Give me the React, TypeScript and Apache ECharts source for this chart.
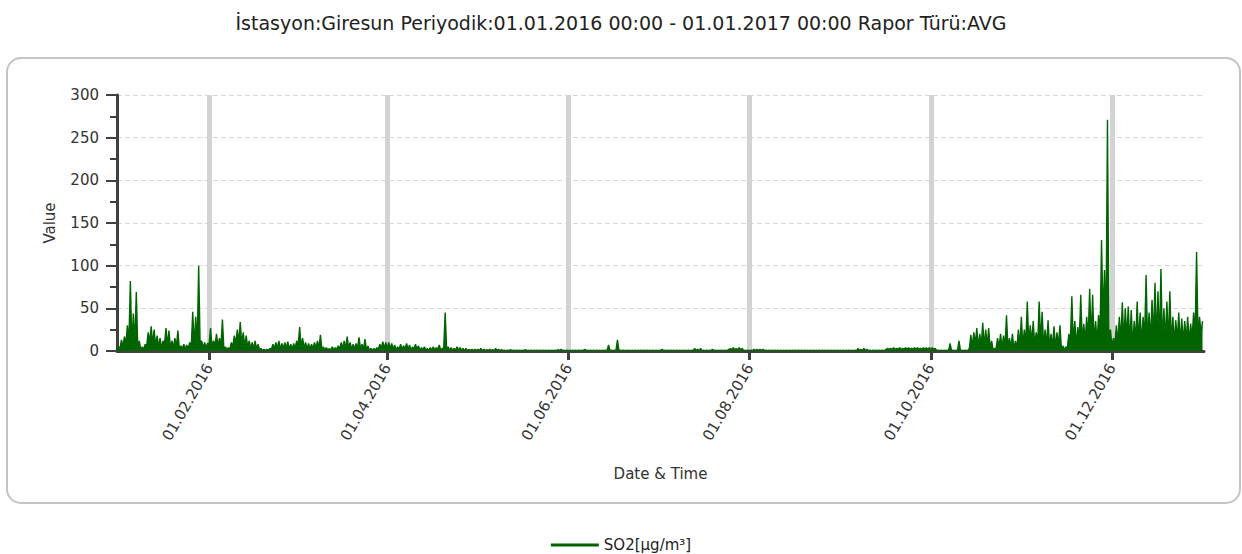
import React, { useEffect, useRef } from "react";
import * as echarts from "echarts";

const titleText = "İstasyon:Giresun Periyodik:01.01.2016 00:00 - 01.01.2017 00:00 Rapor Türü:AVG";
const seriesName = "SO2[µg/m³]";

// x axis: day of year (0 = 01.01.2016)
const tickDays = [31, 91, 152, 213, 274, 335];
const tickLabels = ["01.02.2016", "01.04.2016", "01.06.2016", "01.08.2016", "01.10.2016", "01.12.2016"];
const yTicks = [0, 50, 100, 150, 200, 250, 300];

// daily peak and low values, per month
const janMax = [5, 13, 17, 30, 82, 44, 69, 12, 5, 8, 22, 29, 25, 18, 15, 12, 27, 24, 12, 15, 24, 6, 8, 7, 10, 46, 40, 100, 12, 10, 9];
const janMin = [1, 3, 5, 8, 10, 6, 9, 3, 1, 2, 6, 10, 8, 6, 5, 3, 8, 6, 3, 4, 5, 2, 3, 2, 3, 5, 6, 8, 5, 4, 4];
const febMax = [27, 12, 20, 15, 37, 5, 4, 10, 18, 25, 34, 22, 18, 12, 10, 12, 8, 3, 2, 2, 3, 8, 10, 12, 9, 10, 11, 8, 9];
const febMin = [8, 4, 6, 5, 6, 1, 1, 2, 5, 8, 10, 7, 5, 4, 3, 3, 2, 1, 0.5, 0.5, 1, 2, 3, 3, 2, 3, 3, 2, 2];
const marMax = [12, 28, 15, 10, 9, 8, 10, 12, 19, 5, 4, 3, 5, 4, 6, 10, 12, 17, 10, 8, 9, 16, 8, 14, 6, 3, 3, 4, 8, 11, 10];
const marMin = [3, 6, 4, 3, 2, 2, 3, 3, 3, 1, 1, 1, 1, 1, 2, 2, 3, 3, 3, 2, 2, 3, 2, 2, 1, 1, 1, 1, 2, 3, 3];
const aprMax = [10, 9, 7, 5, 8, 6, 9, 7, 5, 8, 6, 4, 5, 3, 4, 5, 4, 7, 3, 45, 5, 4, 3, 5, 4, 3, 3, 2, 2, 2];
const aprMin = [3, 3, 2, 1, 2, 2, 3, 2, 1, 2, 2, 1, 1, 1, 1, 1, 1, 2, 1, 3, 1, 1, 1, 1, 1, 1, 0.5, 0.5, 0.5, 0.5];
const mayMax = [2, 3, 2, 1.5, 2, 1.5, 3, 2, 1.5, 1, 1, 1.5, 1, 1, 1, 1, 1.5, 1, 1, 1, 1, 1, 1, 1, 1, 1, 1, 1.5, 2, 1, 1];
const mayMin = [0.5, 0.5, 0.5, 0.5, 0.5, 0.5, 0.5, 0.5, 0.5, 0.5, 0.5, 0.5, 0.5, 0.5, 0.5, 0.5, 0.5, 0.5, 0.5, 0.5, 0.5, 0.5, 0.5, 0.5, 0.5, 0.5, 0.5, 0.5, 0.5, 0.5, 0.5];
const junMax = [1, 1, 1, 1, 1, 2, 1, 1, 1, 1, 1, 1, 1, 7, 1, 1, 13, 1, 1, 1, 1, 1, 1, 1, 1, 1, 1, 1, 1, 1];
const junMin = [0.5, 0.5, 0.5, 0.5, 0.5, 0.5, 0.5, 0.5, 0.5, 0.5, 0.5, 0.5, 0.5, 0.5, 0.5, 0.5, 0.5, 0.5, 0.5, 0.5, 0.5, 0.5, 0.5, 0.5, 0.5, 0.5, 0.5, 0.5, 0.5, 0.5];
const julMax = [1, 2, 1, 1, 1, 1, 1, 1, 1, 1, 1, 1, 3, 2, 3, 1, 1, 1, 2, 1, 1, 1, 1, 1, 3, 4, 3, 4, 3, 1, 1];
const julMin = [0.5, 0.5, 0.5, 0.5, 0.5, 0.5, 0.5, 0.5, 0.5, 0.5, 0.5, 0.5, 0.5, 0.5, 0.5, 0.5, 0.5, 0.5, 0.5, 0.5, 0.5, 0.5, 0.5, 0.5, 1.5, 1.5, 1.5, 1.5, 1.5, 0.5, 0.5];
const augMax = [1, 2, 2, 2, 2, 1, 1, 1, 1, 1, 1, 1, 1, 1, 1, 1, 1, 1, 1, 1, 1, 1, 1, 1, 1, 1, 1, 1, 1, 1, 1];
const augMin = [0.5, 0.5, 0.5, 0.5, 0.5, 0.5, 0.5, 0.5, 0.5, 0.5, 0.5, 0.5, 0.5, 0.5, 0.5, 0.5, 0.5, 0.5, 0.5, 0.5, 0.5, 0.5, 0.5, 0.5, 0.5, 0.5, 0.5, 0.5, 0.5, 0.5, 0.5];
const sepMax = [1, 1, 1, 1, 1, 3, 2, 3, 2, 1, 1, 1, 1, 1, 1, 3, 3, 4, 3, 4, 3, 4, 4, 3, 4, 4, 3, 4, 4, 4];
const sepMin = [0.5, 0.5, 0.5, 0.5, 0.5, 0.5, 0.5, 0.5, 0.5, 0.5, 0.5, 0.5, 0.5, 0.5, 0.5, 2, 2, 2, 2, 2, 2, 2, 2, 2, 2, 2, 2, 2, 2, 2];
const octMax = [4, 3, 1, 1, 1, 1, 9, 1, 1, 12, 1, 1, 1, 19, 22, 27, 20, 33, 25, 27, 12, 3, 15, 20, 18, 42, 15, 20, 12, 25, 40];
const octMin = [2, 2, 0.5, 0.5, 0.5, 0.5, 0.5, 0.5, 0.5, 0.5, 0.5, 0.5, 0.5, 3, 5, 8, 4, 6, 5, 6, 3, 1, 3, 4, 3, 5, 3, 4, 2, 3, 5];
const novMax = [25, 58, 30, 35, 22, 58, 46, 25, 36, 20, 29, 22, 30, 6, 5, 20, 64, 35, 28, 66, 32, 40, 73, 66, 35, 42, 130, 95, 271, 25];
const novMin = [5, 10, 8, 10, 6, 8, 10, 5, 6, 4, 5, 3, 6, 2, 1, 4, 10, 8, 6, 12, 10, 12, 15, 12, 8, 10, 20, 40, 30, 5];
const decMax = [15, 30, 40, 57, 50, 52, 48, 35, 58, 45, 40, 89, 45, 60, 80, 70, 96, 50, 58, 70, 40, 36, 45, 38, 35, 40, 32, 45, 116, 40, 35];
const decMin = [5, 8, 10, 12, 10, 15, 8, 6, 12, 10, 8, 15, 10, 12, 15, 12, 10, 8, 12, 10, 8, 10, 12, 8, 10, 12, 10, 15, 20, 15, 20];

const dailyMax = [janMax, febMax, marMax, aprMax, mayMax, junMax, julMax, augMax, sepMax, octMax, novMax, decMax].flat();
const dailyMin = [janMin, febMin, marMin, aprMin, mayMin, junMin, julMin, augMin, sepMin, octMin, novMin, decMin].flat();

function buildData() {
  const out: [number, number][] = [];
  for (let d = 0; d < dailyMax.length; d++) {
    out.push([d, dailyMin[d]]);
    out.push([d + 0.5, dailyMax[d]]);
  }
  return out;
}

const FONT = "DejaVu Sans";

export default function App() {
  const ref = useRef<HTMLDivElement>(null);
  useEffect(() => {
    if (!ref.current) return;
    const chart = echarts.init(ref.current, undefined, { renderer: "svg" });
    chart.setOption({
      animation: false,
      backgroundColor: "#ffffff",
      textStyle: { fontFamily: FONT },
      title: {
        text: titleText,
        left: "center",
        top: 8,
        textStyle: { fontFamily: FONT, fontSize: 19, fontWeight: "normal", color: "#222" },
      },
      graphic: [
        {
          type: "rect",
          shape: { x: 7, y: 58, width: 1233, height: 445, r: 14 },
          style: { fill: "none", stroke: "#c4c4c4", lineWidth: 2 },
          silent: true,
          z: -1,
        },
      ],
      legend: {
        data: [seriesName],
        left: "center",
        top: 531,
        icon: "rect",
        itemWidth: 48,
        itemHeight: 3,
        itemGap: 10,
        textStyle: { fontFamily: FONT, fontSize: 15, color: "#222", lineHeight: 18 },
      },
      grid: { left: 117, right: 38, top: 95, bottom: 203, containLabel: false },
      xAxis: {
        type: "value",
        min: 0,
        max: 366,
        name: "Date & Time",
        nameLocation: "middle",
        nameGap: 115,
        nameTextStyle: { fontFamily: FONT, fontSize: 15, color: "#333" },
        axisLine: { show: true, onZero: false, lineStyle: { color: "#404040", width: 3 } },
        axisTick: {
          show: true,
          customValues: tickDays,
          length: 9,
          lineStyle: { color: "#404040", width: 3 },
        },
        axisLabel: {
          customValues: tickDays,
          rotate: 60,
          margin: 14,
          fontFamily: FONT,
          fontSize: 15,
          color: "#333",
          formatter: (v: number) => {
            const i = tickDays.indexOf(Math.round(v));
            return i >= 0 ? tickLabels[i] : "";
          },
        },
        splitLine: { show: true, lineStyle: { color: "#d3d3d3", width: 5 } },
      },
      yAxis: {
        type: "value",
        min: 0,
        max: 300,
        interval: 50,
        name: "Value",
        nameLocation: "middle",
        nameGap: 60,
        nameTextStyle: { fontFamily: FONT, fontSize: 15, color: "#333" },
        axisLine: { show: true, lineStyle: { color: "#404040", width: 3 } },
        axisTick: { show: true, length: 11, lineStyle: { color: "#404040", width: 2 } },
        minorTick: { show: true, splitNumber: 2, length: 7, lineStyle: { color: "#404040", width: 2 } },
        axisLabel: {
          margin: 18,
          fontFamily: FONT,
          fontSize: 15,
          color: "#333",
          customValues: yTicks,
        },
        splitLine: { show: true, lineStyle: { color: "#d6d6d6", width: 1, type: [5, 3] } },
      },
      series: [
        {
          name: seriesName,
          type: "line",
          data: buildData(),
          showSymbol: false,
          symbol: "none",
          lineStyle: { color: "#006400", width: 1.4 },
          itemStyle: { color: "#006400" },
          areaStyle: { color: "#006400", opacity: 1 },
          z: 3,
        },
      ],
    });
    return () => chart.dispose();
  }, []);
  return (
    <div
      ref={ref}
      style={{ position: "absolute", left: 0, top: 0, width: 1242, height: 554 }}
    />
  );
}
